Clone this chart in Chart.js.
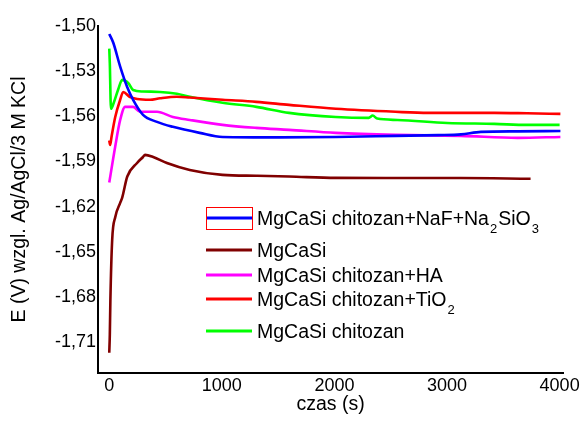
<!DOCTYPE html>
<html>
<head>
<meta charset="utf-8">
<script src="https://cdn.jsdelivr.net/npm/chart.js@4"></script>
<style>
  html, body { margin: 0; padding: 0; background: #fff; }
  #box { width: 584px; height: 421px; }
</style>
</head>
<body>
<div id="box"><canvas id="myChart"></canvas></div>
<script>
// dane (czas w s, E w V)
var seriesLabels = ['MgCaSi chitozan+NaF+Na_2SiO_3', 'MgCaSi', 'MgCaSi chitozan+HA', 'MgCaSi chitozan+TiO_2', 'MgCaSi chitozan'];
var seriesColors = ['#0000ff', '#800000', '#ff00ff', '#ff0000', '#00ff00'];

var tNaF = [0, 35, 97, 159, 212, 300, 424, 565, 803, 1006, 1510, 2012, 2542, 2921, 3124, 3301, 3628, 4007];
var eNaF = [-1.5053, -1.511, -1.527, -1.5405, -1.549, -1.559, -1.5637, -1.567, -1.571, -1.5737, -1.574, -1.5737, -1.5730, -1.5725, -1.572, -1.5703, -1.570, -1.5697];

var tMgCaSi = [0, 5, 10, 26, 53, 97, 115, 160, 247, 300, 318, 390, 512, 715, 1006, 1306, 1597, 2012, 2542, 3124, 3742];
var eMgCaSi = [-1.717, -1.705, -1.682, -1.642, -1.627, -1.6175, -1.614, -1.600, -1.591, -1.587, -1.5856, -1.587, -1.591, -1.5956, -1.5989, -1.5995, -1.600, -1.6009, -1.601, -1.601, -1.6015];

var tHA = [0, 53, 97, 141, 212, 274, 424, 565, 715, 1006, 1306, 1597, 2012, 2542, 3124, 3628, 4007];
var eHA = [-1.604, -1.580, -1.5624, -1.5537, -1.5537, -1.557, -1.557, -1.5604, -1.5624, -1.5657, -1.5677, -1.569, -1.571, -1.5723, -1.573, -1.5743, -1.5737];

var tTiO2 = [0, 8, 20, 53, 97, 124, 180, 247, 362, 450, 600, 715, 1006, 1306, 1597, 2012, 2542, 2833, 3420, 3710, 4007];
var eTiO2 = [-1.576, -1.579, -1.5737, -1.5604, -1.549, -1.5438, -1.547, -1.5485, -1.549, -1.548, -1.547, -1.5475, -1.549, -1.5504, -1.5524, -1.555, -1.557, -1.5577, -1.5577, -1.558, -1.5584];

var tChit = [0, 5, 15, 40, 80, 115, 170, 212, 300, 450, 600, 715, 1006, 1306, 1597, 2012, 2304, 2340, 2380, 2560, 3000, 3420, 3710, 4000];
var eChit = [-1.515, -1.525, -1.555, -1.551, -1.542, -1.5358, -1.538, -1.5425, -1.5435, -1.5438, -1.545, -1.547, -1.551, -1.5537, -1.5577, -1.5604, -1.561, -1.5595, -1.5615, -1.5624, -1.5644, -1.565, -1.5657, -1.5657];

var xTicks = [0, 1000, 2000, 3000, 4000];
var yTicks = [-1.50, -1.53, -1.56, -1.59, -1.62, -1.65, -1.68, -1.71];

var times = [tNaF, tMgCaSi, tHA, tTiO2, tChit];
var values = [eNaF, eMgCaSi, eHA, eTiO2, eChit];

function pairs(t, e) {
    var out = [];
    for (var i = 0; i < t.length; i++) out.push({x: t[i], y: e[i]});
    return out;
}

// legenda z indeksami dolnymi
var legendPlugin = {
    id: 'subLegend',
    afterDraw: function(chart) {
        var ctx = chart.ctx;
        var rows = [218, 250, 275, 299, 331];
        var x0 = 206, x1 = 252, tx = 257;
        ctx.save();
        for (var i = 0; i < seriesLabels.length; i++) {
            var y = rows[i];
            ctx.strokeStyle = seriesColors[i];
            ctx.lineWidth = 3;
            ctx.beginPath();
            ctx.moveTo(x0, y);
            ctx.lineTo(x1, y);
            ctx.stroke();
            // tekst
            var parts = seriesLabels[i].split('_');
            var cx = tx;
            ctx.fillStyle = '#000';
            ctx.textBaseline = 'alphabetic';
            for (var p = 0; p < parts.length; p++) {
                var s = parts[p];
                if (p > 0) {
                    ctx.font = '13px "Liberation Sans", Arial, sans-serif';
                    ctx.fillText(s.charAt(0), cx + 1, y + 15);
                    cx += ctx.measureText(s.charAt(0)).width + 2;
                    s = s.substring(1);
                }
                ctx.font = '19.5px "Liberation Sans", Arial, sans-serif';
                ctx.fillText(s, cx, y + 7);
                cx += ctx.measureText(s).width;
            }
        }
        // czerwona ramka wokół pierwszej próbki
        ctx.strokeStyle = '#ff0000';
        ctx.lineWidth = 1;
        ctx.strokeRect(206.5, 207.5, 46, 22);
        ctx.restore();
    }
};

window.onload = function() {
    var ctx = document.getElementById('myChart');
    var datasets = [];
    for (var i = 0; i < seriesLabels.length; i++) {
        datasets.push({
            label: seriesLabels[i],
            data: pairs(times[i], values[i]),
            borderColor: seriesColors[i],
            backgroundColor: seriesColors[i],
            borderWidth: 2.6,
            pointRadius: 0,
            cubicInterpolationMode: 'monotone',
            fill: false
        });
    }
    var tickFont = {family: '"Liberation Sans", Arial, sans-serif', size: 18};
    var titleFont = {family: '"Liberation Sans", Arial, sans-serif', size: 19.5};

    var mychart = new Chart(ctx, {
        type: 'line',
        data: {datasets: datasets},
        plugins: [legendPlugin],
        options: {
            responsive: true,
            maintainAspectRatio: false,
            animation: false,
            layout: {padding: {left: 0, right: 21, top: 26, bottom: 0}},
            plugins: {
                legend: {display: false},
                tooltip: {enabled: false}
            },
            scales: {
                x: {
                    type: 'linear',
                    min: -100,
                    max: 4030,
                    grid: {display: false, drawTicks: false},
                    border: {display: true, color: '#000', width: 2},
                    ticks: {
                        color: '#000', font: tickFont, padding: 2, maxRotation: 0,
                        callback: function(v) { return String(v); }
                    },
                    afterBuildTicks: function(scale) {
                        scale.ticks = xTicks.map(function(v) { return {value: v}; });
                    },
                    afterFit: function(scale) { scale.height = 48; },
                    title: {display: true, text: 'czas (s)', color: '#000', font: titleFont, padding: {top: 0, bottom: 5}}
                },
                y: {
                    type: 'linear',
                    min: -1.7305,
                    max: -1.50,
                    grid: {display: false, drawTicks: false},
                    border: {display: true, color: '#000', width: 2},
                    ticks: {
                        color: '#000', font: tickFont, padding: 2,
                        callback: function(v) { return v.toFixed(2).replace('.', ','); }
                    },
                    afterBuildTicks: function(scale) {
                        scale.ticks = yTicks.map(function(v) { return {value: v}; });
                    },
                    afterFit: function(scale) { scale.width = 98; },
                    title: {display: true, text: 'E (V) wzgl. Ag/AgCl/3 M KCl', color: '#000', font: titleFont, padding: {top: 8, bottom: 0}}
                }
            }
        }
    });
};
</script>
</body>
</html>
